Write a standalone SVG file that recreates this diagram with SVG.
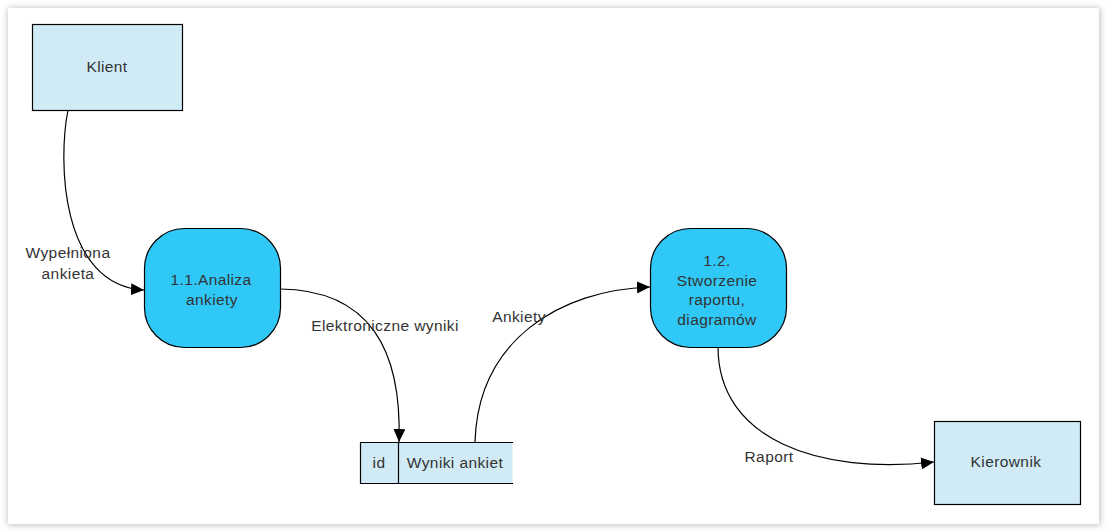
<svg xmlns="http://www.w3.org/2000/svg" width="1107" height="532" viewBox="0 0 1107 532">
<style>
text{font-family:"Liberation Sans",Arial,sans-serif;font-size:15.5px;letter-spacing:0.4px;fill:#333;text-anchor:middle}
.ext{fill:#d1ebf6;stroke:#000;stroke-width:1.2}
.proc{fill:#30c8f6;stroke:#000;stroke-width:1.2}
.store{fill:#d1ebf6;stroke:none}
.sl{stroke:#000;stroke-width:1.2;fill:none}
.con{fill:none;stroke:#000;stroke-width:1.2;marker-end:url(#arr)}
</style>
<defs>
<marker id="arr" markerWidth="14" markerHeight="12" refX="13" refY="6" orient="auto" markerUnits="userSpaceOnUse">
<path d="M0,0 L13,6 L0,12 Z" fill="#000"/>
</marker>
<filter id="sh" x="-5%" y="-5%" width="110%" height="110%">
<feGaussianBlur stdDeviation="3"/>
</filter>
</defs>
<rect width="1107" height="532" fill="#fff"/>
<rect x="8" y="8" width="1092" height="517" fill="#bbb" filter="url(#sh)"/>
<rect x="8" y="8" width="1091" height="516" fill="#fff"/>
<g id="klient"><rect class="ext" x="32.5" y="24.5" width="150" height="86"/><text x="107" y="72">Klient</text></g>
<g id="analiza"><rect class="proc" x="144.5" y="228.5" width="136" height="119" rx="40" ry="40"/><text x="211" y="285">1.1.Analiza</text><text x="212" y="305">ankiety</text></g>
<g id="stworzenie"><rect class="proc" x="650.5" y="228.5" width="136" height="119" rx="40" ry="40"/><text x="717" y="266">1.2.</text><text x="717" y="286">Stworzenie</text><text x="717" y="305">raportu,</text><text x="717" y="325">diagramów</text></g>
<g id="wyniki"><rect class="store" x="360.5" y="442.5" width="152" height="41"/><path class="sl" d="M513,442.5 H360.5 V483.5 H513 M398.5,442.5 V483.5"/><text x="379" y="468">id</text><text x="455" y="468">Wyniki ankiet</text></g>
<g id="kierownik"><rect class="ext" x="934.5" y="421.5" width="146" height="83"/><text x="1006" y="467">Kierownik</text></g>
<g id="connectors">
<path class="con" d="M68,110 C58,160 60,285 144,290"/>
<path class="con" d="M280,289 C370,290 402,350 399,442"/>
<path class="con" d="M475,442 C478,340 560,290 650,287"/>
<path class="con" d="M718,347 C718,440 820,475 934,462"/>
</g>
<g id="labels">
<text x="68" y="258">Wypełniona</text><text x="68" y="279">ankieta</text>
<text x="385" y="331">Elektroniczne wyniki</text>
<text x="519" y="322">Ankiety</text>
<text x="769" y="462">Raport</text>
</g>
</svg>
